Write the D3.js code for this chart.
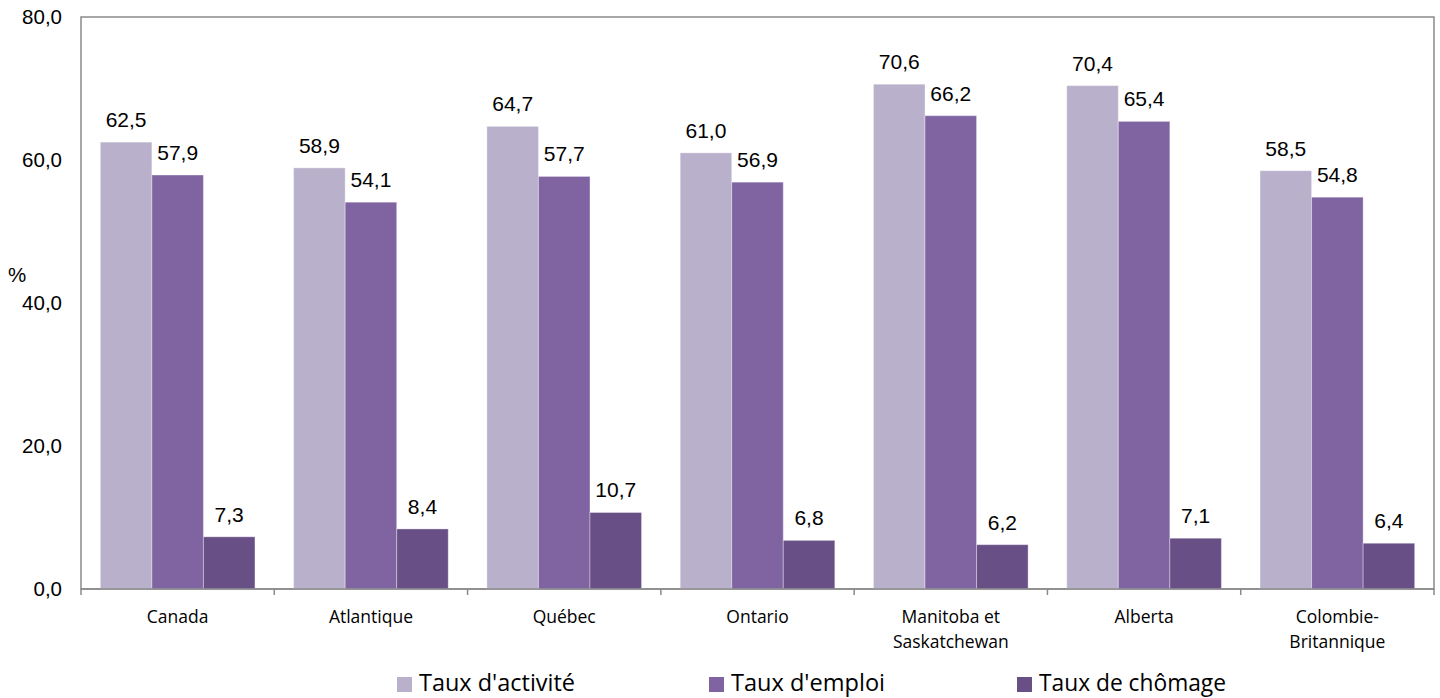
<!DOCTYPE html>
<html>
<head>
<meta charset="utf-8">
<title>Taux d'activité, d'emploi et de chômage</title>
<style>
  body { margin: 0; background: #fff; }
  .val { font: 21px "Liberation Sans", Arial, sans-serif; fill: #000; }
  .ytick { font: 20.5px "Liberation Sans", Arial, sans-serif; fill: #000; }
  .cat { font: 17.5px "Open Sans", sans-serif; fill: #000; }
  .leg { font: 23px "Open Sans", sans-serif; fill: #000; }
</style>
</head>
<body>
<svg width="1440" height="698"></svg>
<script src="https://cdn.jsdelivr.net/npm/d3@7"></script>
<script>
// data
var categories = ["Canada", "Atlantique", "Québec", "Ontario", "Manitoba et\nSaskatchewan", "Alberta", "Colombie-\nBritannique"];
var seriesNames = ["Taux d'activité", "Taux d'emploi", "Taux de chômage"];
var tauxActivite = [62.5, 58.9, 64.7, 61.0, 70.6, 70.4, 58.5];
var tauxEmploi = [57.9, 54.1, 57.7, 56.9, 66.2, 65.4, 54.8];
var tauxChomage = [7.3, 8.4, 10.7, 6.8, 6.2, 7.1, 6.4];
var yTicks = [0, 20, 40, 60, 80];

var colors = ["#b9b0cb", "#8064a2", "#684f86"];
var series = [tauxActivite, tauxEmploi, tauxChomage];

var svg = d3.select("svg");
var plotLeft = 81, plotRight = 1434, plotTop = 17, plotBottom = 589;

var fr = d3.formatLocale({ decimal: ",", thousands: " ", grouping: [3], currency: ["", ""] });
var fmt = fr.format(".1f");

var y = d3.scaleLinear().domain([0, 80]).range([plotBottom, plotTop]);
var x = d3.scaleBand().domain(d3.range(categories.length)).range([plotLeft, plotRight]).padding(0);
var step = x.step();
var xs = d3.scaleBand().domain(d3.range(series.length)).range([step * 0.1, step * 0.9]);

// frame
svg.append("rect")
  .attr("x", plotLeft).attr("y", plotTop)
  .attr("width", plotRight - plotLeft).attr("height", plotBottom - plotTop)
  .attr("fill", "none").attr("stroke", "#8a8a8a").attr("stroke-width", 1.5);

// y labels
svg.selectAll(".ytick").data(yTicks).enter().append("text")
  .attr("class", "ytick")
  .attr("x", 62).attr("y", function(d) { return y(d); })
  .attr("dy", "0.35em")
  .attr("text-anchor", "end")
  .text(function(d) { return fmt(d); });

svg.append("text").attr("class", "ytick")
  .attr("x", 8).attr("y", 282).text("%");

// bars
var groups = svg.selectAll(".grp").data(categories).enter().append("g")
  .attr("transform", function(d, i) { return "translate(" + x(i) + ",0)"; });

groups.each(function(c, i) {
  var g = d3.select(this);
  series.forEach(function(s, j) {
    g.append("rect")
      .attr("x", xs(j)).attr("y", y(s[i]))
      .attr("width", xs.bandwidth()).attr("height", y(0) - y(s[i]))
      .attr("fill", colors[j])
      .attr("stroke", "rgba(255,255,255,0.35)").attr("stroke-width", 1);
    g.append("text").attr("class", "val")
      .attr("x", xs(j) + xs.bandwidth() / 2)
      .attr("y", y(s[i]) - 15)
      .attr("text-anchor", "middle")
      .text(fmt(s[i]));
  });
});

// x axis line + ticks
svg.append("line")
  .attr("x1", plotLeft).attr("x2", plotRight).attr("y1", plotBottom).attr("y2", plotBottom)
  .attr("stroke", "#8a8a8a").attr("stroke-width", 1.5);
svg.selectAll(".xt").data(d3.range(categories.length + 1)).enter().append("line")
  .attr("x1", function(d) { return plotLeft + d * step; })
  .attr("x2", function(d) { return plotLeft + d * step; })
  .attr("y1", plotBottom).attr("y2", plotBottom + 6)
  .attr("stroke", "#8a8a8a").attr("stroke-width", 1.5);

// category labels
svg.selectAll(".cat").data(categories).enter().append("text")
  .attr("class", "cat")
  .attr("text-anchor", "middle")
  .attr("transform", function(d, i) { return "translate(" + (x(i) + step / 2) + ",623)"; })
  .each(function(d) {
    var t = d3.select(this);
    d.split("\n").forEach(function(line, k) {
      t.append("tspan").attr("x", 0).attr("y", k * 25).text(line);
    });
  });

// legend
var legX = [397, 709, 1017];
var legW = [156, 154, 187];
var leg = svg.selectAll(".legi").data(seriesNames).enter().append("g")
  .attr("transform", function(d, i) { return "translate(" + legX[i] + ",677)"; });
leg.append("rect").attr("width", 15).attr("height", 15)
  .attr("fill", function(d, i) { return colors[i]; });
leg.append("text").attr("class", "leg")
  .attr("x", 22).attr("y", 14)
  .attr("textLength", function(d, i) { return legW[i]; })
  .attr("lengthAdjust", "spacingAndGlyphs")
  .text(function(d) { return d; });
</script>
</body>
</html>
